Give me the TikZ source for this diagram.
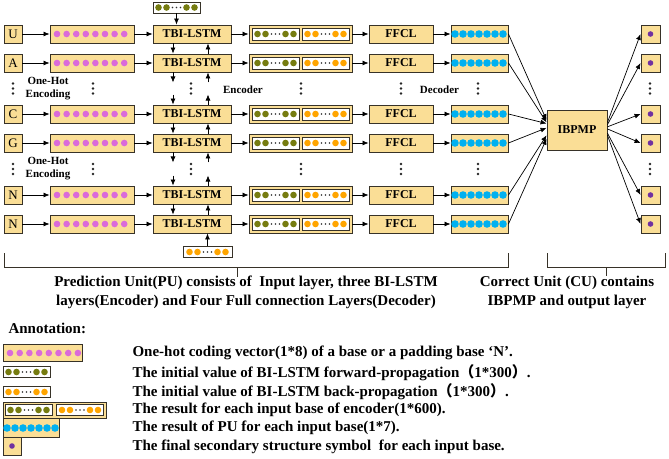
\documentclass[tikz,border=0pt]{standalone}
\usepackage{fontspec}
\setmainfont{Liberation Serif}
\newfontfamily\cjk{Noto Sans CJK SC}
\usetikzlibrary{arrows.meta}

\definecolor{boxfill}{RGB}{250,222,150}
\definecolor{edge}{RGB}{55,50,40}
\definecolor{pinkdot}{RGB}{218,106,218}
\definecolor{olivedot}{RGB}{118,124,16}
\definecolor{orangedot}{RGB}{255,165,0}
\definecolor{bluedot}{RGB}{0,176,240}
\definecolor{purpledot}{RGB}{112,48,160}

\tikzset{
  cell/.style={draw=edge, fill=boxfill, line width=0.9pt, inner sep=0pt, minimum height=18pt},
  blank/.style={draw=edge, fill=white, line width=0.9pt, inner sep=0pt, minimum height=12pt},
  arr/.style={-{Latex[length=6pt,width=5pt]}, line width=0.7pt, draw=black},
  lbl/.style={font=\bfseries\fontsize{12}{14}\selectfont},
  note/.style={font=\bfseries\fontsize{15}{17}\selectfont},
}

% half of a BI-LSTM state: two dots, three small dots, two dots
\newcommand{\halfvec}[3]{%
  \foreach \dx in {-18,-10,10,18} \fill[#3] ({#1+\dx},#2) circle (3.3pt);
  \foreach \dx in {-4,0,4} \fill[black!80] ({#1+\dx},#2) circle (0.8pt);}
% vertical ellipsis
\newcommand{\vdotsat}[2]{%
  \foreach \dy in {-5,0,5} \fill[black!85] (#1,{#2+\dy}) circle (1.3pt);}

\begin{document}
\begin{tikzpicture}[x=1pt,y=-1pt]
\useasboundingbox (0,0) rectangle (669,458);

% rows of the prediction unit
\foreach \y/\b/\i in {34/U/1,63/A/2,114/C/3,143/G/4,195/N/5,224/N/6} {
  \node[cell, minimum width=18pt, font=\fontsize{13}{13}\selectfont] (l\i) at (13,\y) {\b};
  \node[cell, minimum width=84pt] (pk\i) at (92,\y) {};
  \foreach \k in {0,...,7} \fill[pinkdot] ({57+\k*9.6},\y) circle (3.3pt);
  \node[cell, minimum width=78pt, lbl] (tb\i) at (192,\y) {TBI-LSTM};
  \node[cell, minimum width=103pt] (en\i) at (300.5,\y) {};
  \node[blank, minimum width=47pt] (fw\i) at (275.5,\y) {};
  \node[blank, minimum width=47pt] (bw\i) at (325.5,\y) {};
  \halfvec{275.5}{\y}{olivedot}
  \halfvec{325.5}{\y}{orangedot}
  \node[cell, minimum width=64pt, lbl] (ff\i) at (401,\y) {FFCL};
  \node[cell, minimum width=57pt] (bl\i) at (479.5,\y) {};
  \foreach \k in {0,...,6} \fill[bluedot] ({455+\k*8},\y) circle (3.8pt);
  \node[cell, minimum width=19pt] (o\i) at (650.5,\y) {};
  \fill[purpledot] (o\i) circle (2.8pt);
  \draw[arr] (l\i) -- (pk\i);
  \draw[arr] (pk\i) -- (tb\i);
  \draw[arr] (tb\i) -- (en\i);
  \draw[arr] (en\i) -- (ff\i);
  \draw[arr] (ff\i) -- (bl\i);
}

% initial states
\node[blank, minimum width=47pt, minimum height=11pt] (fi) at (176.5,7.5) {};
\halfvec{176.5}{7.5}{olivedot}
\node[blank, minimum width=49pt, minimum height=11pt] (bi) at (207.5,252) {};
\halfvec{207.5}{252}{orangedot}
\draw[arr] (fi.south) -- (fi.south |- tb1.north);
\draw[arr] (bi.north) -- (bi.north |- tb6.south);

% links between the TBI-LSTM cells
\foreach \a/\b in {1/2,3/4,5/6} {
  \draw[arr] ([xshift=-19pt]tb\a.south) -- ([xshift=-19pt]tb\b.north);
  \draw[arr] ([xshift=16pt]tb\b.north) -- ([xshift=16pt]tb\a.south);
}
\foreach \a/\b in {2/3,4/5} {
  \draw[arr] ([xshift=-19pt]tb\a.south) -- ++(0,10);
  \draw[arr] ([xshift=-19pt,yshift=10pt]tb\b.north) -- ([xshift=-19pt]tb\b.north);
  \draw[arr] ([xshift=16pt]tb\b.north) -- ++(0,-10);
  \draw[arr] ([xshift=16pt,yshift=-10pt]tb\a.south) -- ([xshift=16pt]tb\a.south);
}

% gaps
\foreach \g in {88.5,169} {
  \vdotsat{13}{\g}
  \vdotsat{93}{\g}
  \vdotsat{191}{\g}
  \vdotsat{301}{\g}
  \vdotsat{401}{\g}
  \vdotsat{478}{\g}
  \vdotsat{650}{\g}
  \node[align=center, font=\bfseries\fontsize{11}{13}\selectfont] at (48,\g) {One-Hot\\Encoding};
}
\node[font=\bfseries\fontsize{11}{12}\selectfont] (enc) at (243,90) {Encoder};
\node[font=\bfseries\fontsize{11}{12}\selectfont] (dec) at (439.5,90) {Decoder};

% correct unit
\node[cell, minimum width=60pt, minimum height=40pt, lbl] (ib) at (577,130) {IBPMP};
\foreach \i/\a in {1/162,2/166,3/168,4/176,5/190,6/196}
  \draw[arr] (bl\i.east) -- (ib.\a);
\foreach \i/\a in {1/14,2/10,3/6,4/2,5/354,6/350}
  \draw[arr] (ib.\a) -- (o\i.west);

% braces
\draw[line width=0.8pt, edge] (4,253) |- (508,267) -- (508,253);
\draw[line width=0.8pt, edge] (237,267) -- (237,277);
\draw[line width=0.8pt, edge] (547,253) |- (665,267) -- (665,253);
\draw[line width=0.8pt, edge] (606,267) -- (606,276);
\node[align=center, font=\bfseries\fontsize{15}{19}\selectfont] (pu) at (246,292.5)
  {Prediction Unit(PU) consists of\ \ Input layer, three BI-LSTM\\layers(Encoder) and Four Full connection Layers(Decoder)};
\node[align=center, font=\bfseries\fontsize{15}{19}\selectfont] (cu) at (567,292.5)
  {Correct Unit (CU) contains\\IBPMP and output layer};

% annotation
\node[note, anchor=west] (ann) at (5,328) {Annotation:};
\node[cell, minimum width=79pt, minimum height=17pt] (kpk) at (42.5,353) {};
\foreach \k in {0,...,7} \fill[pinkdot] ({10+\k*9.7},353) circle (3.3pt);
\node[blank, minimum width=47pt, minimum height=11pt] (kfw) at (26.5,372) {};
\halfvec{26.5}{372}{olivedot}
\node[blank, minimum width=47pt, minimum height=11pt] (kbw) at (26.5,392) {};
\halfvec{26.5}{392}{orangedot}
\node[cell, minimum width=103pt, minimum height=16pt] (ken) at (54.5,410) {};
\node[blank, minimum width=47pt, minimum height=11pt] (kenf) at (28.5,410) {};
\node[blank, minimum width=47pt, minimum height=11pt] (kenb) at (80,410) {};
\halfvec{28.5}{410}{olivedot}
\halfvec{80}{410}{orangedot}
\node[cell, minimum width=56pt, minimum height=19pt] (kbl) at (31,428) {};
\foreach \k in {0,...,6} \fill[bluedot] ({7+\k*8},428) circle (3.8pt);
\node[cell, minimum width=18pt, minimum height=18pt] (ko) at (12,446) {};
\fill[purpledot] (ko) circle (2.8pt);

\node[note, anchor=west] (t1) at (129,353) {One-hot coding vector(1*8) of a base or a padding base ‘N’.};
\node[note, anchor=west] (t2) at (129,373) {The initial value of BI-LSTM forward-propagation{\cjk （}1*300{\cjk ）}.};
\node[note, anchor=west] (t3) at (129,392) {The initial value of BI-LSTM back-propagation{\cjk （}1*300{\cjk ）}.};
\node[note, anchor=west] (t4) at (129,410) {The result for each input base of encoder(1*600).};
\node[note, anchor=west] (t5) at (129,428) {The result of PU for each input base(1*7).};
\node[note, anchor=west] (t6) at (129,447) {The final secondary structure symbol\ \ for each input base.};

\end{tikzpicture}
\end{document}
